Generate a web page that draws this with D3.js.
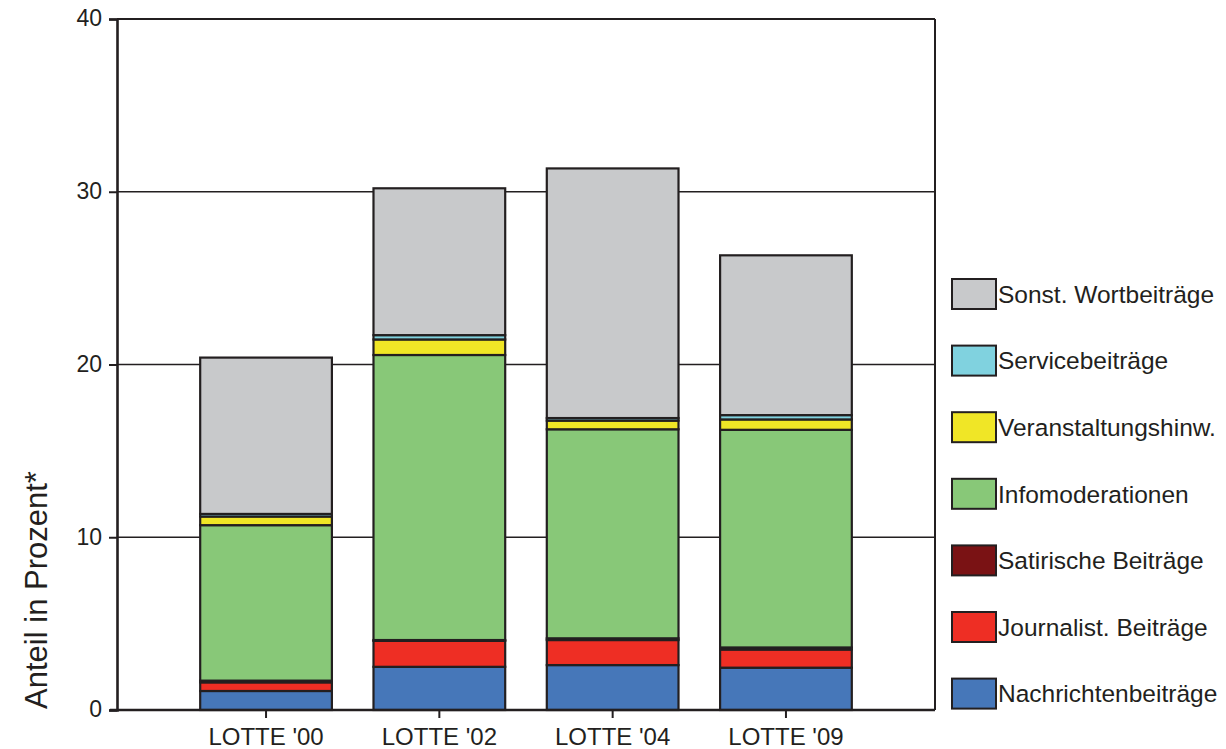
<!DOCTYPE html>
<html><head><meta charset="utf-8">
<script src="https://cdn.jsdelivr.net/npm/d3@7/dist/d3.min.js"></script>
<style>body{margin:0;background:#fff;}svg{display:block;font-family:"Liberation Sans",Arial,sans-serif;}</style>
</head><body>
<svg id="c" width="1226" height="749"></svg>
<script>
const categories = ["LOTTE '00", "LOTTE '02", "LOTTE '04", "LOTTE '09"];
const seriesNames = ["Nachrichtenbeiträge","Journalist. Beiträge","Satirische Beiträge","Infomoderationen","Veranstaltungshinw.","Servicebeiträge","Sonst. Wortbeiträge"];
const nachrichten   = [1.1, 2.5, 2.6, 2.45];
const journalist    = [0.5, 1.5, 1.45, 1.05];
const satirisch     = [0.1, 0.05, 0.1, 0.12];
const infomod       = [9.0, 16.5, 12.1, 12.6];
const veranstaltung = [0.5, 0.9, 0.5, 0.6];
const service       = [0.15, 0.25, 0.15, 0.25];
const sonst         = [9.05, 8.5, 14.45, 9.25];
const colors = ["#4677b9","#ee2e24","#7a1214","#88c878","#f0e626","#80d2df","#c8c9cb"];
const yTicks = [0, 10, 20, 30, 40];

const seriesValues = [nachrichten, journalist, satirisch, infomod, veranstaltung, service, sonst];
const rows = categories.map((c,i)=>{const r={cat:c}; seriesNames.forEach((s,j)=>r[s]=seriesValues[j][i]); return r;});
const stack = d3.stack().keys(seriesNames)(rows);

const svg = d3.select("#c");
const L=117, R=935, T=19, B=710;
const x = d3.scaleBand().domain(categories).range([L,R]).paddingInner(0.24).paddingOuter(0.48);
const y = d3.scaleLinear().domain([0,40]).range([B,T]);
const ink = "#231f20";
const FF = "Liberation Sans, Arial, sans-serif";

// gridlines
svg.append("g").selectAll("line").data(yTicks.filter(t=>t>0&&t<40)).join("line")
  .attr("x1",L).attr("x2",R).attr("y1",d=>y(d)).attr("y2",d=>y(d))
  .attr("stroke",ink).attr("stroke-width",1.6);

// bars
svg.append("g").selectAll("g").data(stack).join("g")
  .attr("fill",(d,i)=>colors[i])
  .selectAll("rect").data(d=>d).join("rect")
  .attr("x",d=>x(d.data.cat)).attr("width",x.bandwidth())
  .attr("y",d=>y(d[1])).attr("height",d=>y(d[0])-y(d[1]))
  .attr("stroke",ink).attr("stroke-width",2.2);

// frame
svg.append("line").attr("x1",L).attr("x2",R).attr("y1",T).attr("y2",T).attr("stroke",ink).attr("stroke-width",2);
svg.append("line").attr("x1",R).attr("x2",R).attr("y1",T).attr("y2",B).attr("stroke",ink).attr("stroke-width",2);

// y axis
const ya = svg.append("g").attr("transform",`translate(${L},0)`)
  .call(d3.axisLeft(y).tickValues(yTicks).tickSize(8).tickPadding(7).tickFormat(d3.format("d")));
ya.select(".domain").attr("stroke",ink).attr("stroke-width",2.6);
ya.selectAll(".tick line").attr("stroke",ink).attr("stroke-width",2);
ya.selectAll(".tick text").attr("font-size",23).attr("fill",ink).attr("font-family",FF).attr("dy","0.3em");

// x axis
const xa = svg.append("g").attr("transform",`translate(0,${B})`)
  .call(d3.axisBottom(x).tickSize(8).tickPadding(10).tickSizeOuter(0));
xa.select(".domain").attr("stroke",ink).attr("stroke-width",2.6).attr("d",`M${L-7},0H${R}`);
xa.selectAll(".tick line").attr("stroke",ink).attr("stroke-width",2);
xa.selectAll(".tick text").attr("font-size",24).attr("fill",ink).attr("font-family",FF);

// y label
svg.append("text").attr("transform","translate(47,590) rotate(-90)")
  .attr("text-anchor","middle").attr("font-size",31).attr("fill",ink).text("Anteil in Prozent*");

// legend
const legendOrder = seriesNames.map((s,i)=>({s,c:colors[i]})).reverse();
const lg = svg.append("g").selectAll("g").data(legendOrder).join("g")
  .attr("transform",(d,i)=>`translate(952,${279 + i*66.6})`);
lg.append("rect").attr("width",44).attr("height",30).attr("fill",d=>d.c).attr("stroke",ink).attr("stroke-width",2);
lg.append("text").attr("x",46).attr("y",15).attr("dy","0.36em").attr("font-size",24.5).attr("fill",ink).text(d=>d.s);
</script>
</body></html>
